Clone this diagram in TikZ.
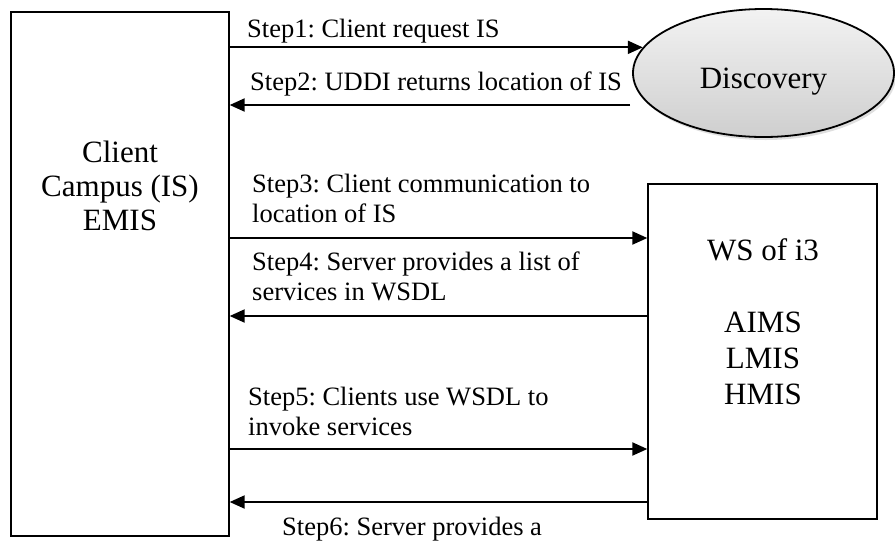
\documentclass[tikz,border=0pt]{standalone}
\usepackage{fontspec}
\setmainfont{Liberation Serif}
\frenchspacing
\usetikzlibrary{arrows.meta,shapes.geometric,shadows}
\begin{document}
\begin{tikzpicture}[x=1pt,y=-1pt,
  box/.style={draw=black, line width=1.3pt, inner sep=0pt},
  bigtxt/.style={font=\fontsize{31}{34}\selectfont, align=center, inner sep=0pt, anchor=base},
  steptxt/.style={font=\fontsize{26.5}{30}\selectfont, align=left, inner sep=0pt, anchor=base west},
  arr/.style={line width=2pt, -{Triangle[length=15pt,width=13pt]}},
]
\useasboundingbox (0,0) rectangle (895,542);
% boxes
\node[box, minimum width=218pt, minimum height=524pt] (client) at (120,274) {};
\node[box, minimum width=229pt, minimum height=335pt] (server) at (762.5,351.5) {};
\node[ellipse, draw=black, line width=1.8pt, minimum width=261pt, minimum height=128pt,
      inner sep=0pt, top color=gray!10, bottom color=gray!38,
      drop shadow={shadow xshift=2pt, shadow yshift=-3pt, opacity=0.25},
      font=\fontsize{31}{35}\selectfont, text height=30pt, text depth=0pt] (disc) at (763.5,73) {Discovery};
% box texts (base anchor = last line)
\node[bigtxt] (clienttxt) at (120,230) {Client\\Campus (IS)\\EMIS};
\node[bigtxt, font=\fontsize{31}{36}\selectfont] (servertxt) at (763,404) {WS of i3\\[36pt]AIMS\\LMIS\\HMIS};
% step labels
\node[steptxt] (t1) at (247,37) {Step1: Client request IS};
\node[steptxt] (t2) at (250,90) {Step2: UDDI returns location of IS};
\node[steptxt] (t3) at (252,222) {Step3: Client communication to\\location of IS};
\node[steptxt] (t4) at (252,300) {Step4: Server provides a list of\\services in WSDL};
\node[steptxt] (t5) at (248,435) {Step5: Clients use WSDL to\\invoke services};
\node[steptxt] (t6) at (282,535) {Step6: Server provides a};
% connectors
\coordinate (s2start) at (630,105);
\draw[arr] (client.east |- disc.168) -- (disc.168);
\draw[arr] (s2start) -- (client.east |- s2start);
\coordinate (y3) at (0,238);
\coordinate (y4) at (0,316);
\coordinate (y5) at (0,449);
\coordinate (y6) at (0,502);
\draw[arr] (client.east |- y3) -- (server.west |- y3);
\draw[arr] (server.west |- y4) -- (client.east |- y4);
\draw[arr] (client.east |- y5) -- (server.west |- y5);
\draw[arr] (server.west |- y6) -- (client.east |- y6);
\end{tikzpicture}
\end{document}
